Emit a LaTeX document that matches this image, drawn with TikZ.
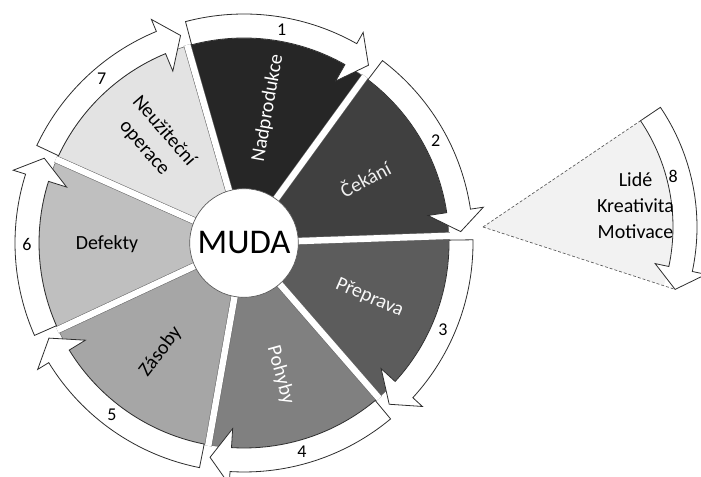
\documentclass[tikz,border=0pt]{standalone}
\usepackage{fontspec}
\setmainfont{Carlito}
\usetikzlibrary{calc}

\definecolor{mudaA}{gray}{0.15}
\definecolor{mudaB}{gray}{0.25}
\definecolor{mudaC}{gray}{0.36}
\definecolor{mudaD}{gray}{0.50}
\definecolor{mudaE}{gray}{0.65}
\definecolor{mudaF}{gray}{0.75}
\definecolor{mudaG}{gray}{0.89}
\definecolor{mudaH}{gray}{0.95}

\begin{document}
\begin{tikzpicture}[
  x=0.75pt,y=0.75pt,
  wedge/.style={draw=gray!80!black,line width=0.4pt},
  gap/.style={draw=gray!80!black,line width=0.4pt,double=white,double distance=4.8pt},
  cycarrow/.style={draw=gray!35!black,fill=white,line width=0.6pt,line join=miter},
  wastelabel/.style={font=\fontsize{15}{19.5}\selectfont,align=center,inner sep=0pt},
  numlabel/.style={font=\fontsize{13.5}{15}\selectfont,inner sep=0pt},
  hubdisc/.style={circle,draw=gray!70!black,fill=white,line width=0.5pt,minimum size=81.5pt,inner sep=0pt,font=\fontsize{26}{30}\selectfont}
]
  \useasboundingbox (0,0) rectangle (701,477);
  \coordinate (hub) at (244,234);
  \coordinate (apex) at (483,250);

  % the seven wastes
  \foreach \hi/\lo/\shade/\ink/\rot/\txt [count=\i] in {
      106/54/mudaA/white/80/Nadprodukce,
      54/2/mudaB/white!88!gray/28/Čekání,
      362/311/mudaC/white!95!gray/336.5/Přeprava,
      311/260/mudaD/white/285.5/Pohyby,
      260/205/mudaE/black/52.5/Zásoby,
      205/156/mudaF/black/0.5/Defekty,
      156/106/mudaG/black/-49/{Neužiteční\\operace}}
  {
    \filldraw[wedge,fill=\shade] (hub) -- ++(\lo:205) arc[start angle=\lo,end angle=\hi,radius=205] -- cycle;
    \node[wastelabel,text=\ink,rotate=\rot] (waste\i) at ($(hub)+({(\hi+\lo)/2}:137)$) {\txt};
  }

  % white gaps between the wedges
  \foreach \b in {2,54,106,156,205,260,311}
    \draw[gap] (hub) -- ++(\b:206);

  \node[hubdisc] (muda) at (hub) {MUDA};

  % cycle arrows
  \foreach \hi/\lo [count=\i] in {106/54,54/2,362/311,311/260,260/205,205/156,156/106}
  {
    \pgfmathsetmacro\ts{\hi-1.2}
    \pgfmathsetmacro\te{\lo+1}
    \pgfmathsetmacro\th{\te+5.5}
    \draw[cycarrow] ($(hub)+(\ts:205)$) arc[start angle=\ts,end angle=\th,radius=205]
      -- ($(hub)+(\th:186)$) -- ($(hub)+(\te:217)$) -- ($(hub)+(\th:242)$)
      -- ($(hub)+(\th:229)$) arc[start angle=\th,end angle=\ts,radius=229] -- cycle;
    \node[numlabel] (step\i) at ($(hub)+({(\hi+\lo)/2}:217)$) {\i};
  }

  % the eighth waste, pulled out
  \fill[mudaH] (apex) -- ++(34:190) arc[start angle=34,end angle=-18,radius=190] -- cycle;
  \draw[gray!70!black,line width=0.5pt,dash pattern=on 2.2pt off 1.5pt] (apex) -- ++(34:190);
  \draw[gray!70!black,line width=0.5pt,dash pattern=on 2.2pt off 1.5pt] (apex) -- ++(-18:202);
  \draw[cycarrow] ($(apex)+(34:190)$) arc[start angle=34,end angle=-12,radius=190]
    -- ($(apex)+(-12:176)$) -- ($(apex)+(-18:202)$) -- ($(apex)+(-12:228)$)
    -- ($(apex)+(-12:214)$) arc[start angle=-12,end angle=34,radius=214] -- cycle;
  \node[wastelabel] (people) at ($(apex)+(8:154)$) {Lidé\\Kreativita\\Motivace};
  \node[numlabel] (step8) at ($(apex)+(15:197)$) {8};
\end{tikzpicture}
\end{document}
